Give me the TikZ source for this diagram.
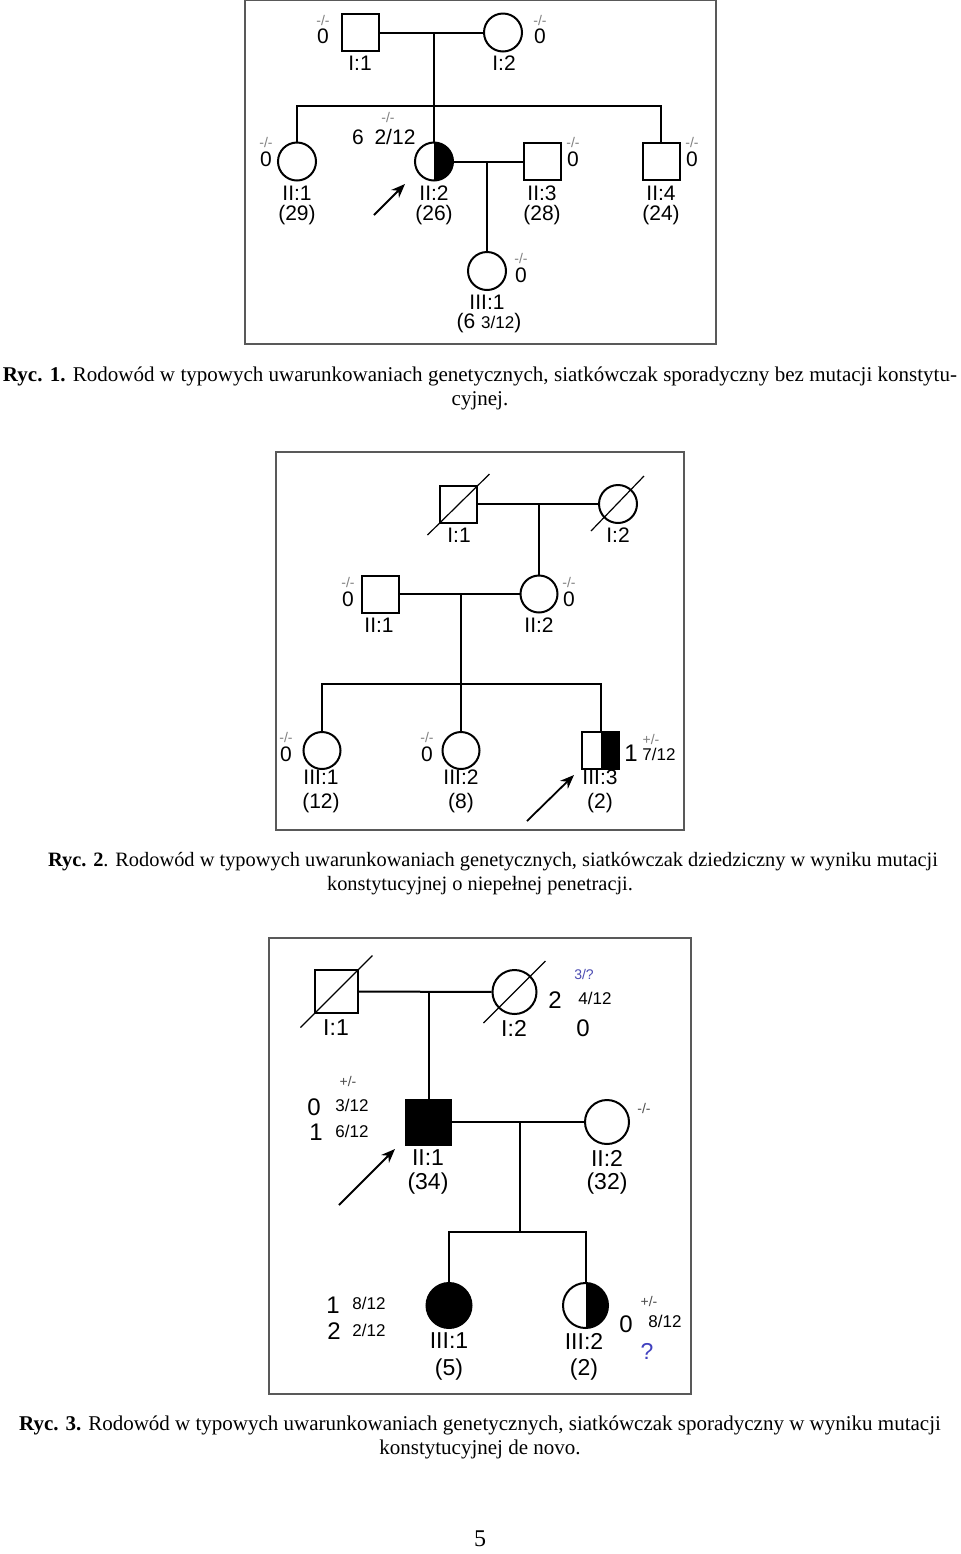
\documentclass[tikz,border=0pt]{standalone}
\usepackage{fontspec}
\setmainfont{Liberation Serif}
\newfontfamily\labf{Liberation Sans}
\usetikzlibrary{arrows.meta}
\begin{document}
\begin{tikzpicture}[x=0.5pt,y=-0.5pt,
  ln/.style={line width=1pt},
  sqn/.style={draw, line width=1pt, rectangle, minimum size=#1, inner sep=0pt},
  cin/.style={draw, line width=1pt, circle, minimum size=#1, inner sep=0pt},
  halfr/.style={path picture={\fill[black] (path picture bounding box.north) rectangle (path picture bounding box.south east);}},
  lab/.style={font=\labf\fontsize{10.5}{12}\selectfont, inner sep=0pt},
  labL/.style={font=\labf\fontsize{11.5}{13}\selectfont, inner sep=0pt},
  num/.style={font=\labf\fontsize{12}{14}\selectfont, inner sep=0pt},
  frac/.style={font=\labf\fontsize{8.5}{10}\selectfont, inner sep=0pt},
  mk/.style={font=\labf\fontsize{7}{8}\selectfont, inner sep=0pt, text=gray},
  frm/.style={draw=gray!70!black, line width=0.6pt},
  death/.style={line width=0.6pt},
  prob/.style={-{Stealth[length=7pt,width=5.5pt]}, line width=0.9pt},
  captxt/.style={font=\fontsize{10.5}{12}\selectfont, inner sep=0pt, anchor=base},
]
\useasboundingbox (0,0) rectangle (960,1554);
\fill[white] (0,0) rectangle (960,1554);

% ================= Figure 1 =================
\draw[frm] (245,0) rectangle (716,344);
\node[sqn=18.5pt] (f1I1) at (360.5,32.5) {};
\node[cin=19pt] (f1I2) at (503,32.5) {};
\node[cin=19pt] (f1II1) at (297,161.5) {};
\node[cin=19pt, halfr] (f1II2) at (434,161.5) {};
\node[sqn=18.5pt] (f1II3) at (542.5,161.5) {};
\node[sqn=18.5pt] (f1II4) at (661,161.5) {};
\node[cin=19pt] (f1III1) at (487,271) {};
\coordinate (f1m) at (434,32.5);
\coordinate (f1sib) at (434,106);
\coordinate (f1m2) at (487,161.5);
\draw[ln] (f1I1) -- (f1I2);
\draw[ln] (f1m) -- (f1II2.north);
\draw[ln] (f1II1.north) -- (f1II1.north |- f1sib) -- (f1II4.north |- f1sib) -- (f1II4.north);
\draw[ln] (f1II2) -- (f1II3);
\draw[ln] (f1m2) -- (f1III1.north);
% labels
\node[lab] (f1t1) at (360,63) {I:1};
\node[lab] (f1t2) at (504,63) {I:2};
\node[lab] (f1z1) at (323,36) {0};
\node[mk] (f1k1) at (323,20) {-/-};
\node[lab] (f1z2) at (540,36) {0};
\node[mk] (f1k2) at (540,20) {-/-};
\node[lab] (f1t3) at (297,193) {II:1};
\node[lab] (f1a3) at (297,215) {(29)};
\node[lab] (f1z3) at (266,159) {0};
\node[mk] (f1k3) at (266,142) {-/-};
\node[lab] (f1t4) at (434,193) {II:2};
\node[lab] (f1a4) at (434,215) {(26)};
\node[lab] (f1s4) at (358,137) {6};
\node[lab] (f1f4) at (395,137) {2/12};
\node[mk] (f1k4) at (388,117) {-/-};
\node[lab] (f1t5) at (542,193) {II:3};
\node[lab] (f1a5) at (542,215) {(28)};
\node[lab] (f1z5) at (573,159) {0};
\node[mk] (f1k5) at (573,142) {-/-};
\node[lab] (f1t6) at (661,193) {II:4};
\node[lab] (f1a6) at (661,215) {(24)};
\node[lab] (f1z6) at (692,159) {0};
\node[mk] (f1k6) at (692,142) {-/-};
\node[lab] (f1t7) at (487,302) {III:1};
\node[lab] (f1a7) at (489,323) {(6 {\fontsize{8.5}{10}\selectfont 3/12})};
\node[lab] (f1z7) at (521,275) {0};
\node[mk] (f1k7) at (521,258) {-/-};
\coordinate (f1p0) at (374,215);
\coordinate (f1p1) at (405,184);
\draw[prob] (f1p0) -- (f1p1);

\node[captxt] (c1a) at (480,381) {\makebox[477pt][s]{\textbf{Ryc. 1.} Rodowód w typowych uwarunkowaniach genetycznych, siatkówczak sporadyczny bez mutacji konstytu-}};
\node[captxt] (c1b) at (480,405) {cyjnej.};

% ================= Figure 2 =================
\draw[frm] (276,452) rectangle (684,830);
\node[sqn=18.5pt] (f2I1) at (458.5,504) {};
\node[cin=19pt] (f2I2) at (618,504) {};
\node[sqn=18.5pt] (f2II1) at (380.5,594) {};
\node[cin=18.5pt] (f2II2) at (539,594) {};
\node[cin=18.5pt] (f2III1) at (322,750.5) {};
\node[cin=18.5pt] (f2III2) at (461,750.5) {};
\node[sqn=18.5pt, halfr] (f2III3) at (600.5,750.5) {};
\draw[death] ([shift={(-31,31)}]f2I1.center) -- ([shift={(31,-30)}]f2I1.center);
\draw[death] ([shift={(-27,27)}]f2I2.center) -- ([shift={(26,-28)}]f2I2.center);
\coordinate (f2m) at (539,504);
\coordinate (f2m2) at (461,594);
\coordinate (f2sib) at (461,684);
\draw[ln] (f2I1) -- (f2I2);
\draw[ln] (f2m) -- (f2II2.north);
\draw[ln] (f2II1) -- (f2II2);
\draw[ln] (f2m2) -- (f2III2.north);
\draw[ln] (f2III1.north) -- (f2III1.north |- f2sib) -- (f2III3.north |- f2sib) -- (f2III3.north);
\node[lab] (f2t1) at (459,535) {I:1};
\node[lab] (f2t2) at (618,535) {I:2};
\node[lab] (f2t3) at (379,625) {II:1};
\node[lab] (f2z3) at (348,599) {0};
\node[mk] (f2k3) at (348,582) {-/-};
\node[lab] (f2t4) at (539,625) {II:2};
\node[lab] (f2z4) at (569,599) {0};
\node[mk] (f2k4) at (569,582) {-/-};
\node[lab] (f2t5) at (321,777) {III:1};
\node[lab] (f2a5) at (321,803) {(12)};
\node[lab] (f2z5) at (286,754) {0};
\node[mk] (f2k5) at (286,737) {-/-};
\node[lab] (f2t6) at (461,777) {III:2};
\node[lab] (f2a6) at (461,803) {(8)};
\node[lab] (f2z6) at (427,754) {0};
\node[mk] (f2k6) at (427,737) {-/-};
\node[lab] (f2t7) at (600,777) {III:3};
\node[lab] (f2a7) at (600,803) {(2)};
\node[num] (f2n7) at (631,753) {1};
\node[mk] (f2k7) at (651,739) {+/-};
\node[frac] (f2f7) at (659,754) {7/12};
\coordinate (f2p0) at (527,821);
\coordinate (f2p1) at (574,775);
\draw[prob] (f2p0) -- (f2p1);

\node[captxt, font=\fontsize{10.2}{12}\selectfont] (c2a) at (493,866) {\textbf{Ryc. 2}. Rodowód w typowych uwarunkowaniach genetycznych, siatkówczak dziedziczny w wyniku mutacji};
\node[captxt, font=\fontsize{10.2}{12}\selectfont] (c2b) at (480,890) {konstytucyjnej o niepełnej penetracji.};

% ================= Figure 3 =================
\draw[frm] (269,938) rectangle (691,1394);
\node[sqn=21.5pt] (f3I1) at (336.5,991.5) {};
\node[cin=22pt] (f3I2) at (514.5,992) {};
\node[sqn=22.5pt, fill=black] (f3II1) at (428.5,1122) {};
\node[cin=22pt] (f3II2) at (607,1122) {};
\node[cin=22.5pt, fill=black] (f3III1) at (449,1305.5) {};
\node[cin=22.5pt, halfr] (f3III2) at (585.5,1305.5) {};
\draw[death] ([shift={(-36,36)}]f3I1.center) -- ([shift={(36,-36)}]f3I1.center);
\draw[death] ([shift={(-31,31)}]f3I2.center) -- ([shift={(31,-31)}]f3I2.center);
\coordinate (f3m) at (428.5,992);
\coordinate (f3m2) at (520,1122);
\coordinate (f3sib) at (520,1232);
\draw[ln] (f3I1) -- (f3I2);
\draw[ln] (f3m) -- (f3II1.north);
\draw[ln] (f3II1) -- (f3II2);
\draw[ln] (f3m2) -- (f3sib);
\draw[ln] (f3III1.north) -- (f3III1.north |- f3sib) -- (f3III2.north |- f3sib) -- (f3III2.north);
\node[labL] (f3t1) at (336,1028) {I:1};
\node[labL] (f3t2) at (514,1028) {I:2};
\node[num] (f3n2) at (555,1000) {2};
\node[mk, text=gray!60!blue] (f3k2) at (584,974) {3/?};
\node[frac] (f3f2) at (595,998) {4/12};
\node[num] (f3z2) at (583,1028) {0};
\node[labL] (f3t3) at (428,1158) {II:1};
\node[labL] (f3a3) at (428,1184) {(34)};
\node[mk, text=black!70] (f3k3) at (348,1081) {+/-};
\node[num] (f3z3) at (314,1107) {0};
\node[frac] (f3f3) at (352,1105) {3/12};
\node[num] (f3o3) at (316,1132) {1};
\node[frac] (f3g3) at (352,1131) {6/12};
\node[labL] (f3t4) at (607,1158) {II:2};
\node[labL] (f3a4) at (607,1184) {(32)};
\node[mk, text=black!70] (f3k4) at (644,1108) {-/-};
\node[labL] (f3t5) at (449,1341) {III:1};
\node[labL] (f3a5) at (449,1370) {(5)};
\node[num] (f3o5) at (333,1305) {1};
\node[frac] (f3f5) at (369,1303) {8/12};
\node[num] (f3w5) at (334,1331) {2};
\node[frac] (f3g5) at (369,1330) {2/12};
\node[labL] (f3t6) at (584,1341) {III:2};
\node[labL] (f3a6) at (584,1370) {(2)};
\node[mk, text=black!70] (f3k6) at (649,1301) {+/-};
\node[num] (f3z6) at (626,1324) {0};
\node[frac] (f3f6) at (665,1321) {8/12};
\node[labL, text=gray!50!blue] (f3q6) at (647,1351) {?};
\coordinate (f3p0) at (339,1205);
\coordinate (f3p1) at (395,1149);
\draw[prob] (f3p0) -- (f3p1);

\node[captxt] (c3a) at (480,1430) {\textbf{Ryc. 3.} Rodowód w typowych uwarunkowaniach genetycznych, siatkówczak sporadyczny w wyniku mutacji};
\node[captxt] (c3b) at (480,1454) {konstytucyjnej de novo.};
\node[font=\fontsize{12}{14}\selectfont, inner sep=0pt, anchor=base] (pg) at (480,1546) {5};
\end{tikzpicture}
\end{document}
